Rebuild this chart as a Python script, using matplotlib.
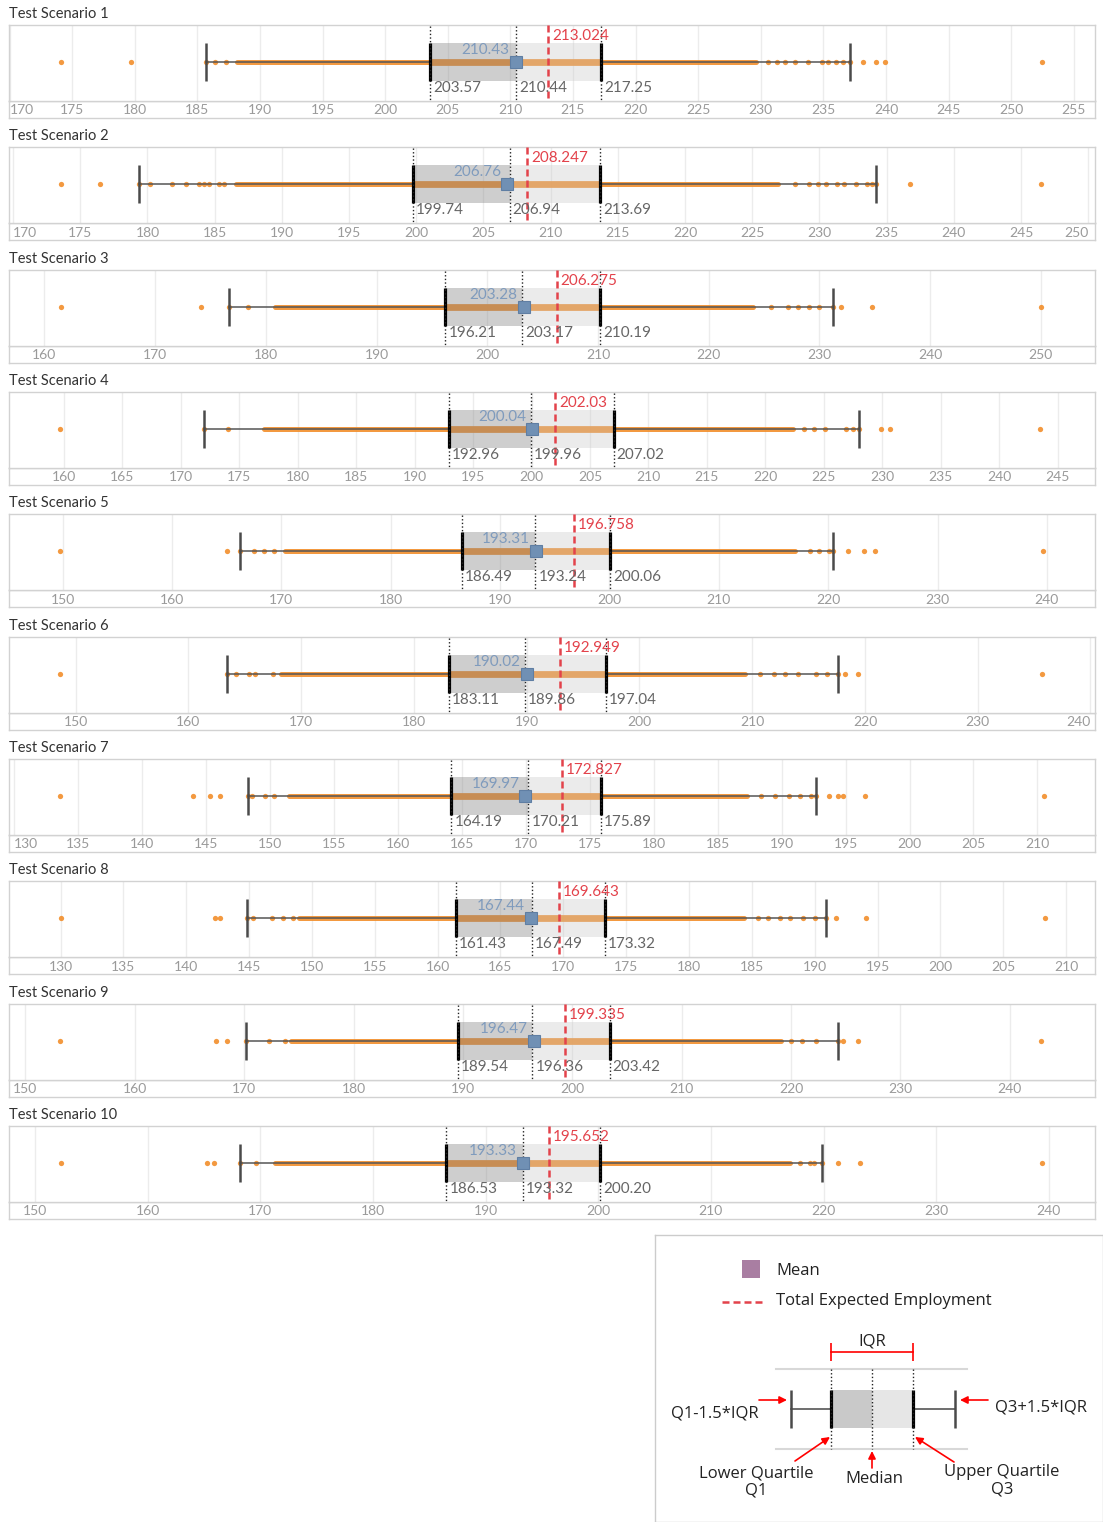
import matplotlib
matplotlib.use("Agg")
import matplotlib.pyplot as plt
from matplotlib.patches import Rectangle
import numpy as np

plt.rcParams['font.family'] = ['Lato', 'DejaVu Sans']

W, H = 1103, 1522
fig = plt.figure(figsize=(W / 100, H / 100), dpi=100)

# ---------------- data ----------------
scenarios = [f"Test Scenario {i}" for i in range(1, 11)]
q1 = [203.57, 199.74, 196.21, 192.96, 186.49, 183.11, 164.19, 161.43, 189.54, 186.53]
median = [210.44, 206.94, 203.17, 199.96, 193.24, 189.86, 170.21, 167.49, 196.36, 193.32]
q3 = [217.25, 213.69, 210.19, 207.02, 200.06, 197.04, 175.89, 173.32, 203.42, 200.20]
mean = [210.43, 206.76, 203.28, 200.04, 193.31, 190.02, 169.97, 167.44, 196.47, 193.33]
expected = [213.024, 208.247, 206.275, 202.03, 196.758, 192.949, 172.827, 169.643, 199.335, 195.652]
whisker_lo = [185.7, 179.4, 176.7, 172.0, 166.2, 163.4, 148.3, 144.8, 170.2, 168.2]
whisker_hi = [237.1, 234.2, 231.2, 228.0, 220.4, 217.6, 192.7, 190.9, 224.3, 219.9]
dense_lo = [188.2, 186.6, 180.8, 177.1, 170.3, 168.2, 151.5, 149.0, 174.3, 171.3]
dense_hi = [229.6, 226.9, 224.0, 222.4, 217.0, 209.4, 187.3, 184.4, 219.1, 217.0]
tail_points = [
    [186.4, 187.3, 230.6, 231.3, 231.9, 232.7, 233.8, 234.9, 235.4, 236.0, 236.6],
    [180.2, 181.8, 182.9, 183.8, 184.2, 184.6, 185.3, 185.7, 228.2, 229.2, 229.9, 230.5,
     231.3, 231.8, 232.7, 233.5, 233.9],
    [178.4, 225.6, 227.2, 228.1, 229.1, 230.0],
    [174.0, 223.3, 224.2, 225.1, 226.9, 227.5],
    [167.5, 168.4, 169.3, 218.3, 219.2, 220.1],
    [164.2, 165.4, 165.9, 167.5, 210.7, 211.9, 212.9, 214.1, 215.7, 216.6],
    [148.6, 149.6, 150.3, 188.4, 189.5, 190.6, 191.4, 192.3],
    [145.3, 146.8, 147.7, 148.5, 185.5, 186.3, 187.2, 188.0, 189.1, 190.0],
    [172.3, 173.7, 220.0, 221.0, 222.3],
    [169.6, 217.9, 218.8, 219.2],
]
outliers = [
    [174.1, 179.7, 238.2, 239.2, 239.9, 252.5],
    [173.6, 176.5, 236.7, 246.5],
    [161.5, 174.1, 232.0, 234.8, 250.0],
    [159.7, 229.9, 230.7, 243.5],
    [149.8, 165.0, 221.8, 223.3, 224.3, 239.6],
    [148.6, 218.2, 219.4, 235.7],
    [133.6, 144.0, 145.3, 146.1, 193.7, 194.4, 194.8, 196.5, 210.5],
    [130.0, 142.3, 142.7, 191.7, 194.1, 208.3],
    [153.2, 167.4, 168.4, 224.8, 226.1, 242.9],
    [152.3, 165.3, 165.9, 221.3, 223.2, 239.4],
]
x_min = [169.95, 169.7, 156.8, 155.3, 145.1, 144.1, 129.6, 125.9, 148.5, 147.7]
x_max = [256.7, 250.5, 254.9, 248.2, 244.4, 240.4, 214.5, 212.3, 247.8, 244.1]
tick_step = [5, 5, 10, 5, 10, 10, 5, 5, 10, 10]

# ---------------- style ----------------
ORANGE = '#f28e2b'
RED = '#e3424b'
MEAN_C = '#7090b4'
MEAN_TXT = '#7f9bbd'
GREY_TXT = '#666666'
TICK_TXT = '#9a9a9a'
FRAME = '#d2d2d2'

PITCH = 122.33
PL, PR = 9, 1095
PH = 76          # plot area height (px)
CY = 37          # centre line (px from plot top)
BT, BB = 18, 56  # box top / bottom

for i in range(10):
    top = 25 + PITCH * i
    ax = fig.add_axes([PL / W, 1 - (top + PH) / H, (PR - PL) / W, PH / H])
    ax.set_xlim(x_min[i], x_max[i])
    ax.set_ylim(PH, 0)
    for s in ax.spines.values():
        s.set_color(FRAME)
        s.set_linewidth(1)
    step = tick_step[i]
    ticks = np.arange(np.ceil(x_min[i] / step) * step, x_max[i] + 1e-9, step)
    ax.set_xticks(ticks)
    ax.set_xticklabels([f"{t:.0f}" for t in ticks])
    ax.set_yticks([])
    ax.tick_params(axis='x', length=0, pad=2.5, labelsize=10, labelcolor=TICK_TXT)
    ax.grid(axis='x', color='#ececec', lw=1, zorder=0)
    ax.set_axisbelow(True)
    ppu = (PR - PL) / (x_max[i] - x_min[i])
    for t, lab in zip(ticks, ax.get_xticklabels()):
        if (t - x_min[i]) * ppu < 14:
            lab.set_ha('left')
        elif (x_max[i] - t) * ppu < 14:
            lab.set_ha('right')

    # tick strip frame
    sax = fig.add_axes([PL / W, 1 - (top + PH + 17) / H, (PR - PL) / W, 17 / H], zorder=-1)
    sax.set_xticks([]); sax.set_yticks([])
    sax.patch.set_alpha(0)
    for s in sax.spines.values():
        s.set_color(FRAME)
        s.set_linewidth(1)

    # title
    fig.text(PL / W, 1 - (top - 11) / H, scenarios[i], fontsize=10.5, color='#333333',
             va='center', ha='left')

    # data points
    ax.plot([dense_lo[i], dense_hi[i]], [CY, CY], color=ORANGE, lw=3.6,
            solid_capstyle='round', alpha=0.9, zorder=2)
    ax.plot([q1[i], q3[i]], [CY, CY], color=ORANGE, lw=5.0,
            solid_capstyle='butt', alpha=0.9, zorder=2)
    pts = tail_points[i] + outliers[i] + [whisker_lo[i], whisker_hi[i]]
    ax.plot(pts, [CY] * len(pts), 'o', ms=3.8, color=ORANGE, mec='none', alpha=0.9, zorder=2)

    # box halves
    ax.add_patch(Rectangle((q1[i], BT), median[i] - q1[i], BB - BT,
                           fc=(0.55, 0.55, 0.55), alpha=0.42, ec='none', zorder=3))
    ax.add_patch(Rectangle((median[i], BT), q3[i] - median[i], BB - BT,
                           fc=(0.8, 0.8, 0.8), alpha=0.38, ec='none', zorder=3))

    # whiskers
    ax.plot([whisker_lo[i], q1[i]], [CY, CY], color='#555555', lw=1.1, zorder=4)
    ax.plot([q3[i], whisker_hi[i]], [CY, CY], color='#555555', lw=1.1, zorder=4)
    ax.vlines([whisker_lo[i], whisker_hi[i]], BT, BB, color='#4a4a4a', lw=1.8, zorder=4)
    ax.vlines([q1[i], q3[i]], BT, BB, color='black', lw=2.3, zorder=5)
    ax.vlines([q1[i], median[i], q3[i]], 1, PH - 1, color='#222222', lw=1,
              linestyles=(0, (1, 1.6)), zorder=5)

    # expected line
    ax.vlines(expected[i], 0, PH, color=RED, lw=1.8, linestyles=(0, (2.8, 1.6)), zorder=6)

    # mean
    ax.plot(mean[i], CY, 's', ms=9, color=MEAN_C, mec='#5f7ea3', mew=0.8, zorder=7)

    # labels
    ax.annotate(f"{mean[i]:.2f}", (mean[i], CY), xytext=(-6, 12), textcoords='offset pixels',
                ha='right', va='center', fontsize=11, color=MEAN_TXT, zorder=8)
    ax.annotate(str(expected[i]), (expected[i], 0), xytext=(4, -11), textcoords='offset pixels',
                ha='left', va='center', fontsize=11, color=RED, zorder=8)
    for v in (q1[i], median[i], q3[i]):
        ax.annotate(f"{v:.2f}", (v, 63), xytext=(3, 0), textcoords='offset pixels',
                    ha='left', va='center', fontsize=11, color=GREY_TXT, zorder=8)

# ---------------- legend panel ----------------
LX0, LY0 = 655, 1235
lax = fig.add_axes([LX0 / W, 0, (W - LX0) / W, (H - LY0) / H])
lax.set_xlim(LX0, W)
lax.set_ylim(H, LY0)
lax.set_xticks([]); lax.set_yticks([])
for s in lax.spines.values():
    s.set_color('#cccccc')
    s.set_linewidth(1)

LF = ['Open Sans', 'DejaVu Sans']
lax.add_patch(Rectangle((742, 1260), 18, 18, fc='#a97ea2', ec='none'))
lax.text(776, 1271, "Mean", fontsize=12, family=LF, va='center', ha='left', color='#222222')
lax.plot([722, 766], [1302, 1302], color=RED, lw=1.8, linestyle=(0, (2.8, 1.6)))
lax.text(776, 1301, "Total Expected Employment", fontsize=12, family=LF, va='center',
         ha='left', color='#222222')

# schematic
lax.plot([776, 967], [1369, 1369], color='#d8d8d8', lw=1.5)
lax.plot([776, 967], [1449, 1449], color='#d8d8d8', lw=1.5)
lax.add_patch(Rectangle((831, 1390), 41, 38, fc='#c9c9c9', ec='none'))
lax.add_patch(Rectangle((872, 1390), 41, 38, fc='#e6e6e6', ec='none'))
lax.plot([791, 831], [1409, 1409], color='#555555', lw=1.2)
lax.plot([913, 955], [1409, 1409], color='#555555', lw=1.2)
lax.vlines([791, 955], 1390, 1428, color='#4a4a4a', lw=1.8)
lax.vlines([831, 913], 1390, 1428, color='black', lw=2.3)
lax.vlines([831, 872, 913], 1369, 1449, color='#222222', lw=1, linestyles=(0, (1, 1.6)))
# IQR bracket
lax.plot([831, 913], [1352, 1352], color='red', lw=1.2)
lax.vlines([831, 913], 1343, 1361, color='red', lw=1.2)
lax.text(872, 1341, "IQR", fontsize=12, family=LF, ha='center', va='center', color='#222222')

arrow = dict(arrowstyle='-|>', color='red', lw=1.2, mutation_scale=11, shrinkA=0, shrinkB=0)
lax.annotate('', xy=(787, 1400), xytext=(759, 1400), arrowprops=arrow)
lax.annotate('', xy=(960, 1400), xytext=(988, 1400), arrowprops=arrow)
lax.annotate('', xy=(830, 1437), xytext=(795, 1461), arrowprops=arrow)
lax.annotate('', xy=(872, 1451), xytext=(872, 1468), arrowprops=arrow)
lax.annotate('', xy=(915, 1437), xytext=(954, 1462), arrowprops=arrow)

lax.text(715, 1414, "Q1-1.5*IQR", fontsize=12, family=LF, ha='center', va='center', color='#222222')
lax.text(1041, 1407, "Q3+1.5*IQR", fontsize=12, family=LF, ha='center', va='center', color='#222222')
lax.text(756, 1482, "Lower Quartile\nQ1", fontsize=12, family=LF, ha='center', va='center',
         color='#222222', linespacing=1.1)
lax.text(874, 1479, "Median", fontsize=12, family=LF, ha='center', va='center', color='#222222')
lax.text(1002, 1481, "Upper Quartile\nQ3", fontsize=12, family=LF, ha='center', va='center',
         color='#222222', linespacing=1.1)

fig.savefig("out.png", dpi=100, facecolor='white')
